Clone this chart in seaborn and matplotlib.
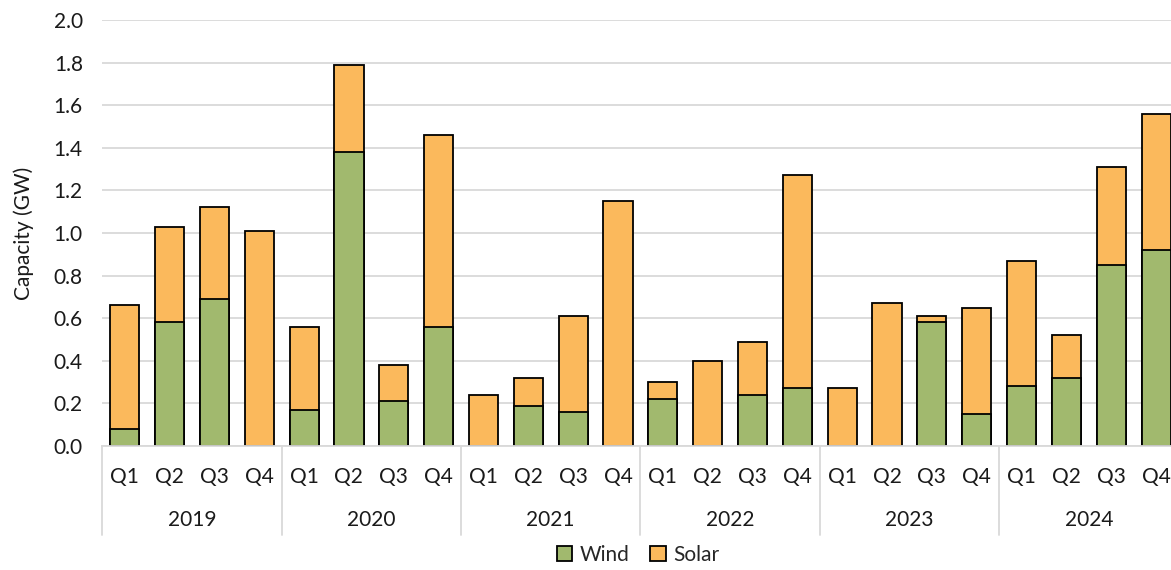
import matplotlib
matplotlib.use("Agg")
import matplotlib.pyplot as plt
import matplotlib.transforms as mtransforms
from matplotlib.patches import Patch
import seaborn as sns
import pandas as pd

# Quarterly capacity additions (GW)
years = ["2019", "2020", "2021", "2022", "2023", "2024"]
quarters = ["Q1", "Q2", "Q3", "Q4"]
wind = [0.08, 0.58, 0.69, 0.00,
        0.17, 1.38, 0.21, 0.56,
        0.00, 0.19, 0.16, 0.00,
        0.22, 0.00, 0.24, 0.27,
        0.00, 0.00, 0.58, 0.15,
        0.28, 0.32, 0.85, 0.92]
solar = [0.58, 0.45, 0.43, 1.01,
         0.39, 0.41, 0.17, 0.90,
         0.24, 0.13, 0.45, 1.15,
         0.08, 0.40, 0.25, 1.00,
         0.27, 0.67, 0.03, 0.50,
         0.59, 0.20, 0.46, 0.64]
y_ticks = [0.0, 0.2, 0.4, 0.6, 0.8, 1.0, 1.2, 1.4, 1.6, 1.8, 2.0]

WIND_COLOR = "#A1B96E"
SOLAR_COLOR = "#FBB95C"
GRID_COLOR = "#D9D9D9"
TEXT_COLOR = "#1a1a1a"
FS = 15

periods = [f"{y} {q}" for y in years for q in quarters]
df = pd.DataFrame({"period": periods, "wind": wind, "solar": solar})
df["total"] = df["wind"] + df["solar"]

sns.set_theme(style="white")
plt.rcParams["font.family"] = ["Lato", "DejaVu Sans"]
plt.rcParams["font.size"] = FS

W, H = 1171, 570
fig = plt.figure(figsize=(W / 100, H / 100), dpi=100)
ax = fig.add_axes([102.3 / W, 124 / H, 1076.2 / W, 426 / H])

bar_kw = dict(edgecolor="black", linewidth=1.3, width=0.65, ax=ax,
              order=periods, saturation=1)
sns.barplot(data=df, x="period", y="total", color=SOLAR_COLOR, **bar_kw)
sns.barplot(data=df, x="period", y="wind", color=WIND_COLOR, **bar_kw)

ax.set_xlim(-0.5, len(periods) - 0.5)
ax.set_ylim(0, 2.0)
ax.set_yticks(y_ticks)
ax.set_yticklabels([f"{v:.1f}" for v in y_ticks])
ax.yaxis.grid(True, color=GRID_COLOR, linewidth=1.3)
ax.set_axisbelow(True)
for s in ["top", "right", "left"]:
    ax.spines[s].set_visible(False)
ax.spines["bottom"].set_color(GRID_COLOR)
ax.spines["bottom"].set_linewidth(1.3)
ax.tick_params(axis="y", length=0, pad=14, labelsize=FS, labelcolor=TEXT_COLOR)
ax.tick_params(axis="x", length=0, pad=15, labelsize=FS, labelcolor=TEXT_COLOR)
ax.set_xticks(range(len(periods)))
ax.set_xticklabels([q for _ in years for q in quarters])
ax.set_xlabel("")
ax.set_ylabel("Capacity (GW)", fontsize=FS, color=TEXT_COLOR, labelpad=14)

# year group labels and separators beneath the quarter labels
trans = mtransforms.blended_transform_factory(ax.transData, ax.transAxes)
sep_bottom = -(535 - 446) / 426
for i, yr in enumerate(years):
    start = i * 4 - 0.5
    ax.plot([start, start], [0, sep_bottom], transform=trans, color=GRID_COLOR,
            linewidth=1.3, clip_on=False)
    ax.text(start + 2, -(520 - 446) / 426, yr, transform=trans, ha="center",
            va="center", fontsize=FS, color=TEXT_COLOR)
end = len(periods) - 0.5
ax.plot([end, end], [0, sep_bottom], transform=trans, color=GRID_COLOR,
        linewidth=1.3, clip_on=False)

handles = [Patch(facecolor=WIND_COLOR, edgecolor="black", linewidth=1.3, label="Wind"),
           Patch(facecolor=SOLAR_COLOR, edgecolor="black", linewidth=1.3, label="Solar")]
fig.legend(handles=handles, loc="center", bbox_to_anchor=(638 / W, 1 - 555 / H),
           ncol=2, frameon=False, fontsize=FS, handlelength=0.75, handleheight=0.75,
           handletextpad=0.35, columnspacing=1.0)

fig.savefig("out.png", dpi=100)
